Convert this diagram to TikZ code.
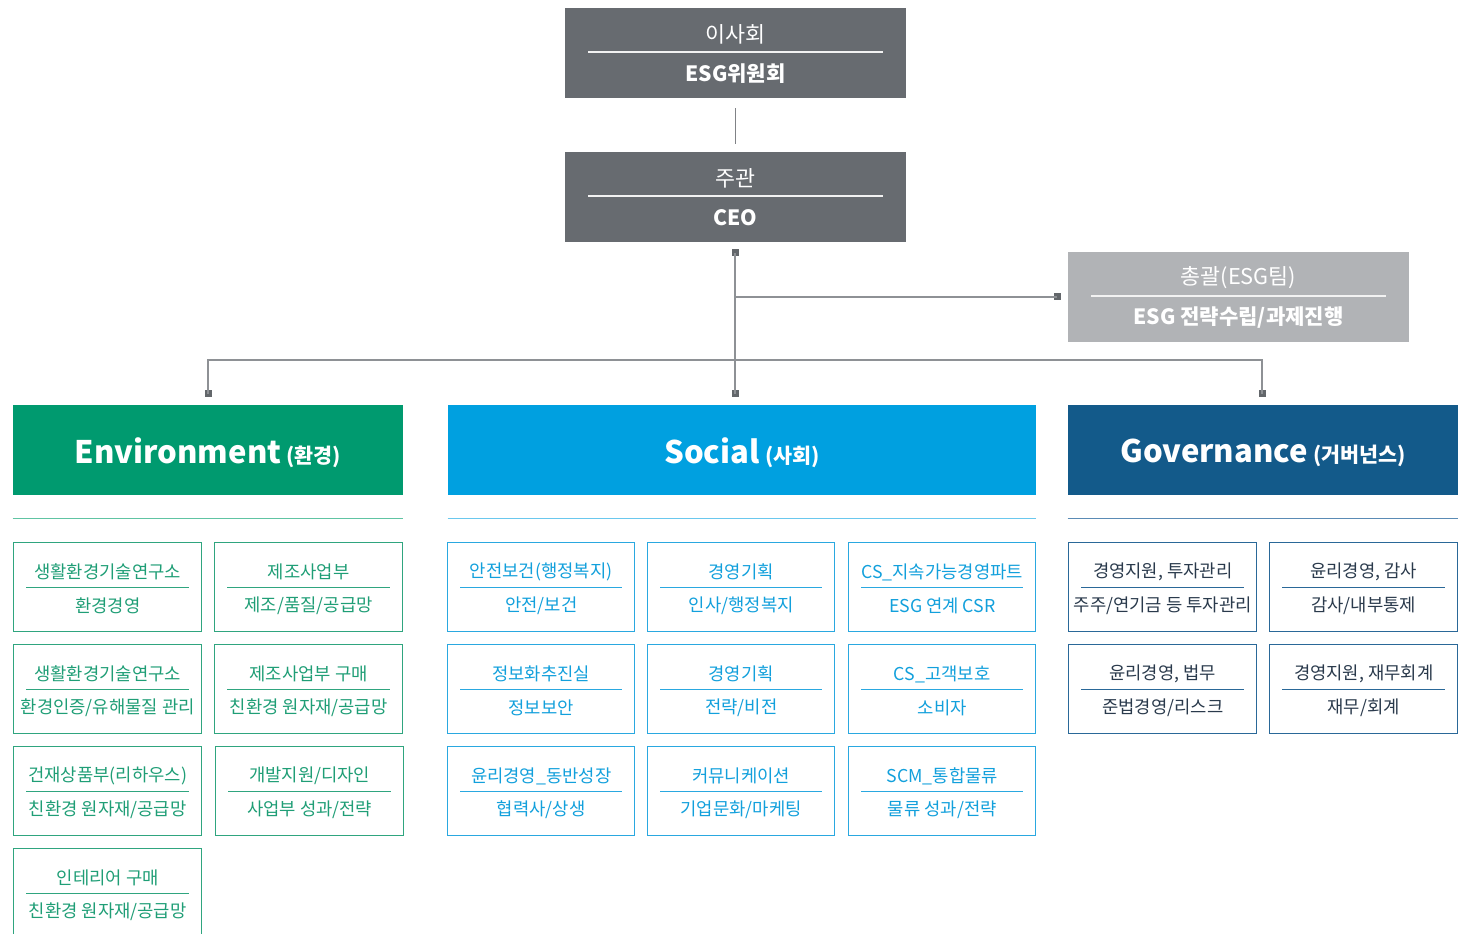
\documentclass[tikz,border=0pt]{standalone}
\usepackage{fontspec}
\setmainfont{Noto Sans CJK KR}
\usetikzlibrary{calc}
\definecolor{topgray}{HTML}{676B70}
\definecolor{esggray}{HTML}{B1B3B6}
\definecolor{linegray}{HTML}{8E9195}
\definecolor{sqgray}{HTML}{63676B}
\definecolor{envfill}{HTML}{009A6F}
\definecolor{socfill}{HTML}{00A0E0}
\definecolor{govfill}{HTML}{135A8A}
\definecolor{Etext}{HTML}{1F9E76}
\definecolor{Eborder}{HTML}{2FA57F}
\definecolor{Esep}{HTML}{60C4A3}
\definecolor{Stext}{HTML}{12A0DC}
\definecolor{Sborder}{HTML}{2AA8E0}
\definecolor{Ssep}{HTML}{6AC8EE}
\definecolor{Gtext}{HTML}{2A3A4C}
\definecolor{Gborder}{HTML}{2A6898}
\definecolor{Gsep}{HTML}{5A8BB5}
\tikzset{
  topbox/.style={fill=topgray, minimum width=341*0.75pt, minimum height=90*0.75pt, inner sep=0pt},
  esgbox/.style={fill=esggray, minimum width=341*0.75pt, minimum height=90*0.75pt, inner sep=0pt},
  toptxt/.style={text=white, inner sep=0pt, font=\fontsize{16.3}{19}\selectfont},
  topbold/.style={text=white, inner sep=0pt, font=\fontsize{15.8}{19}\selectfont\bfseries},
  whiteline/.style={draw=white!90!gray, line width=0.8pt},
  conn/.style={draw=linegray, line width=1pt},
  sq/.style={fill=sqgray, minimum size=7*0.75pt, inner sep=0pt},
  header/.style={minimum height=90*0.75pt, inner sep=0pt, text=white},
  hdrtxt/.style={inner sep=0pt, text=white},
  cell/.style={minimum height=89*0.75pt, line width=1.1pt, inner sep=0pt},
  celltxt/.style={inner sep=0pt, font=\fontsize{13.3}{15}\selectfont},
}
\newcommand\cellbox[7]{%
  \node[cell, draw=#5border, minimum width=#4*0.75pt, anchor=north west] (#1) at (#2,#3) {};
  \node[celltxt, text=#5text] (#1a) at ($(#1.north)+(0,30)$) {#6};
  \node[celltxt, text=#5text] (#1b) at ($(#1.north)+(0,64)$) {#7};
  \draw[draw=#5border, line width=0.8pt] ($(#1.west)+(13,0)$) -- ($(#1.east)+(-13,0)$);
}
\newcommand\hdr[2]{{\fontsize{23.3}{28}\selectfont\bfseries #1}\hspace{4pt}{\fontsize{15.5}{18}\selectfont\bfseries #2}}
\begin{document}
\begin{tikzpicture}[x=0.75pt,y=-0.75pt]
\useasboundingbox (0,0) rectangle (1461,934);
\fill[white] (0,0) rectangle (1461,934);

% top boxes
\node[topbox] (board) at (735.5,53) {};
\node[toptxt] (boardt) at (735.5,34) {이사회};
\node[topbold] (boardb) at (735.5,74) {ESG위원회};
\draw[whiteline] (588,52) -- (883,52);

\node[topbox] (ceo) at (735.5,197) {};
\node[toptxt] (ceot) at (735.5,178) {주관};
\node[topbold] (ceob) at (735.5,218) {CEO};
\draw[whiteline] (588,196) -- (883,196);

\node[esgbox] (esg) at (1238.5,297) {};
\node[toptxt] (esgt) at (1238.5,278) {총괄(ESG팀)};
\node[topbold] (esgb) at (1238.5,318) {ESG 전략수립/과제진행};
\draw[whiteline] (1091,296) -- (1386,296);

% connectors
\draw[draw=linegray!90!black, line width=0.9pt, shorten <=10*0.75pt, shorten >=8*0.75pt] (board.south) -- (ceo.north);
\node[sq] (s0) at (735,253) {};
\node[sq] (s1) at (1057,297) {};
\node[sq] (sE) at (208,394) {};
\node[sq] (sS) at (735,394) {};
\node[sq] (sG) at (1262,394) {};
\coordinate (j1) at (735,297);
\coordinate (bus) at (735,360);
\draw[conn] (s0.center) -- (sS.center);
\draw[conn] (j1) -- (s1.center);
\draw[conn] (sE.center) |- (bus) -| (sG.center);

% headers
\node[header, fill=envfill, minimum width=390*0.75pt] (hE) at (208,450) {};
\node[header, fill=socfill, minimum width=588*0.75pt] (hS) at (742,450) {};
\node[header, fill=govfill, minimum width=390*0.75pt] (hG) at (1263,450) {};
\node[hdrtxt] (hEt) at ($(hE.center)+(0,3)$) {\hdr{Environment}{(환경)}};
\node[hdrtxt] (hSt) at ($(hS.center)+(0,3)$) {\hdr{Social}{(사회)}};
\node[hdrtxt] (hGt) at ($(hG.center)+(0,3)$) {\hdr{Governance}{(거버넌스)}};

\draw[draw=Esep, line width=0.9pt] ($(hE.south west)+(0,23)$) -- ($(hE.south east)+(0,23)$);
\draw[draw=Ssep, line width=0.9pt] ($(hS.south west)+(0,23)$) -- ($(hS.south east)+(0,23)$);
\draw[draw=Gsep, line width=0.9pt] ($(hG.south west)+(0,23)$) -- ($(hG.south east)+(0,23)$);

% Environment cells
\cellbox{e11}{13}{542}{188}{E}{생활환경기술연구소}{환경경영}
\cellbox{e12}{214}{542}{188}{E}{제조사업부}{제조/품질/공급망}
\cellbox{e21}{13}{644}{188}{E}{생활환경기술연구소}{환경인증/유해물질 관리}
\cellbox{e22}{214}{644}{188}{E}{제조사업부 구매}{친환경 원자재/공급망}
\cellbox{e31}{13}{746}{188}{E}{건재상품부(리하우스)}{친환경 원자재/공급망}
\cellbox{e32}{215}{746}{188}{E}{개발지원/디자인}{사업부 성과/전략}
\cellbox{e41}{13}{848}{188}{E}{인테리어 구매}{친환경 원자재/공급망}

% Social cells
\cellbox{s11}{447}{542}{187}{S}{안전보건(행정복지)}{안전/보건}
\cellbox{s12}{647}{542}{187}{S}{경영기획}{인사/행정복지}
\cellbox{s13}{848}{542}{187}{S}{CS\_지속가능경영파트}{ESG 연계 CSR}
\cellbox{s21}{447}{644}{187}{S}{정보화추진실}{정보보안}
\cellbox{s22}{647}{644}{187}{S}{경영기획}{전략/비전}
\cellbox{s23}{848}{644}{187}{S}{CS\_고객보호}{소비자}
\cellbox{s31}{447}{746}{187}{S}{윤리경영\_동반성장}{협력사/상생}
\cellbox{s32}{647}{746}{187}{S}{커뮤니케이션}{기업문화/마케팅}
\cellbox{s33}{848}{746}{187}{S}{SCM\_통합물류}{물류 성과/전략}

% Governance cells
\cellbox{g11}{1068}{542}{188}{G}{경영지원, 투자관리}{주주/연기금 등 투자관리}
\cellbox{g12}{1269}{542}{188}{G}{윤리경영, 감사}{감사/내부통제}
\cellbox{g21}{1068}{644}{188}{G}{윤리경영, 법무}{준법경영/리스크}
\cellbox{g22}{1269}{644}{188}{G}{경영지원, 재무회계}{재무/회계}
\end{tikzpicture}
\end{document}
